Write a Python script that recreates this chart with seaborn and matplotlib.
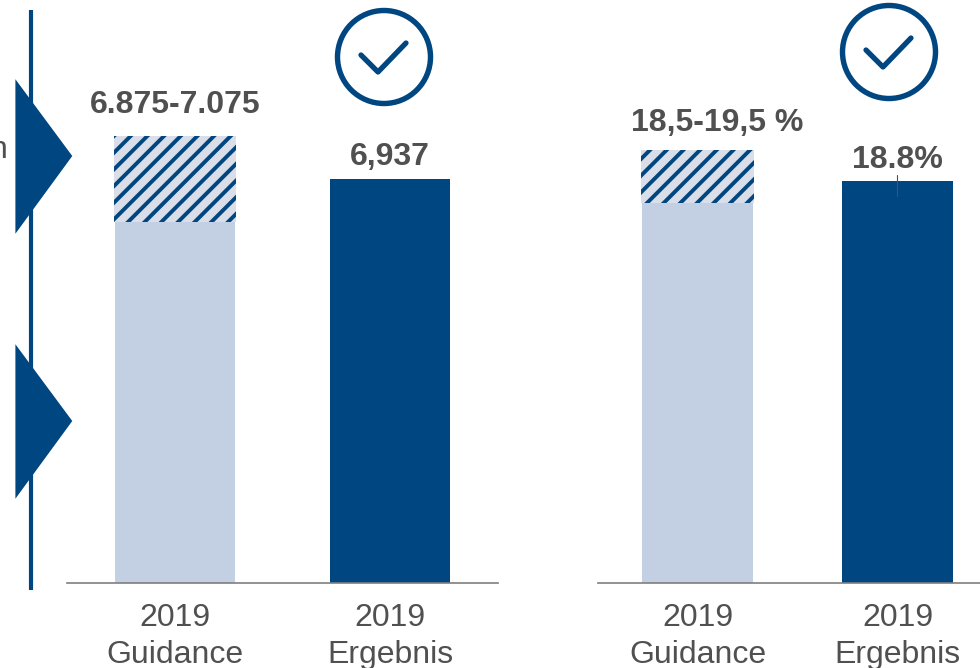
#!/usr/bin/env python3
"""Guidance vs. result bars, 2019."""

import matplotlib
matplotlib.use("Agg")
import matplotlib.pyplot as plt
import pandas as pd
import seaborn as sns
from matplotlib.patches import Circle, Polygon

categories = ["2019\nGuidance", "2019\nErgebnis"]
revenue_heights = [361, 404]
revenue_range = 86
margin_heights = [380, 402]
margin_range = 53
revenue_labels = ["6.875-7.075", "6,937"]
margin_labels = ["18,5-19,5 %", "18.8%"]

NAVY = "#004680"
LIGHT = "#c3cfe2"
HATCH_BG = "#d9dee8"
GREY = "#505050"
W, H = 980, 668

sns.set_theme(style="white")
plt.rcParams["font.family"] = ["Liberation Sans", "DejaVu Sans"]
plt.rcParams["hatch.linewidth"] = 2.8


def draw_panel(fig, x0, x1, heights, hatch_range, labels, width, label_dx, label_dy):
    ax = fig.add_axes([x0 / W, (H - 583) / H, (x1 - x0) / W, 583 / H])
    df = pd.DataFrame({"cat": categories, "value": heights})
    sns.barplot(data=df, x="cat", y="value", hue="cat", palette=[LIGHT, NAVY],
                width=width, saturation=1, legend=False, linewidth=0, ax=ax)
    ax.bar(0, hatch_range, bottom=heights[0], width=width + 0.01, color=HATCH_BG,
           edgecolor=NAVY, hatch="//", linewidth=0)
    ax.set_xlim(-0.5, 1.5)
    ax.set_ylim(0, 583)
    ax.set_xlabel("")
    ax.set_ylabel("")
    ax.set_yticks([])
    ax.tick_params(axis="x", length=0, pad=14.5, labelsize=23, labelcolor=GREY)
    for lab in ax.get_xticklabels():
        lab.set_linespacing(1.32)
    sns.despine(ax=ax, left=True)
    ax.spines["bottom"].set_color("#7f7f7f")
    ax.spines["bottom"].set_linewidth(1.2)
    ax.patch.set_alpha(0)

    tops = [heights[0] + hatch_range, heights[1]]
    for i, (top, text) in enumerate(zip(tops, labels)):
        ax.annotate(text, xy=(i, top), xytext=(label_dx[i], label_dy[i]), textcoords="offset points",
                    ha="center", va="bottom", fontsize=23, fontweight="bold", color=GREY,
                    annotation_clip=False)
    return ax


fig = plt.figure(figsize=(W / 100, H / 100), dpi=100, facecolor="white")

# overlay in pixel coordinates for the slide furniture
over = fig.add_axes([0, 0, 1, 1], zorder=5)
over.set_xlim(0, W)
over.set_ylim(H, 0)
over.axis("off")
over.patch.set_alpha(0)

over.plot([31, 31], [10, 590], color=NAVY, lw=3, solid_capstyle="butt")
for top, mid, bottom in [(75, 156, 238), (340, 421, 503)]:
    over.add_patch(Polygon([(14, top), (74, mid), (14, bottom)], closed=True,
                           facecolor=NAVY, edgecolor="white", lw=2))
over.text(8, 150, "n", ha="right", va="center", fontsize=23, color=GREY)

for cx, cy in [(384, 57), (889, 52)]:
    over.add_patch(Circle((cx, cy), 46.5, facecolor="none", edgecolor=NAVY, lw=3.9))
    over.plot([cx - 23, cx - 6, cx + 22], [cy - 2, cy + 15, cy - 14], color=NAVY, lw=3.8,
              solid_capstyle="round", solid_joinstyle="round")

over.plot([897, 897], [175, 196], color=GREY, lw=0.8)

draw_panel(fig, 67, 498, revenue_heights, revenue_range, revenue_labels, 0.558, [0, 0], [11.5, 5])
draw_panel(fig, 598, 997.5, margin_heights, margin_range, margin_labels, 0.555, [14, 0], [8.5, 4.5])

fig.savefig("out.png", dpi=100)
plt.close(fig)
